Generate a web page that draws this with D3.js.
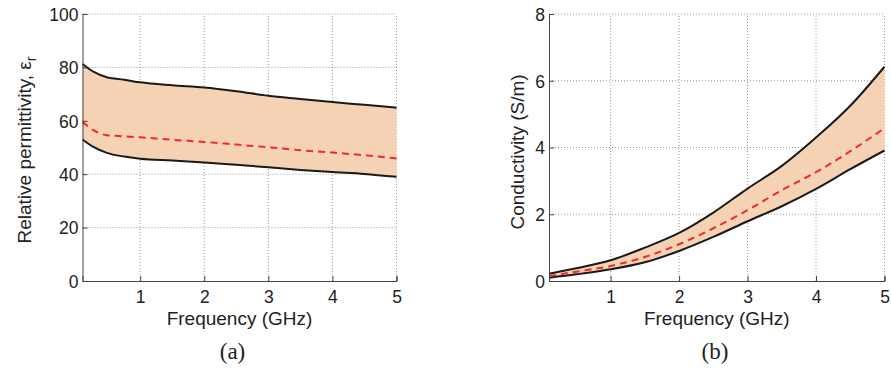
<!DOCTYPE html>
<html>
<head>
<meta charset="UTF-8">
<script src="https://d3js.org/d3.v7.min.js"></script>
<style>
  body { margin: 0; background: #fff; }
  svg { display: block; }
  .tick text { font-family: "Liberation Sans", Arial, sans-serif; font-size: 17.5px; fill: #222; }
  .lbl { font-family: "Liberation Sans", Arial, sans-serif; font-size: 19px; fill: #222; }
  .cap { font-family: "Liberation Serif", "Times New Roman", serif; font-size: 23px; fill: #222; }
</style>
</head>
<body>
<div id="chart"></div>
<script>
// panel (a): relative permittivity
const freqA = [0.1, 0.27, 0.48, 0.75, 1.0, 1.5, 2.0, 2.5, 3.0, 3.5, 4.0, 4.5, 5.0];
const permUpper = [81.3, 78.4, 76.3, 75.4, 74.4, 73.3, 72.5, 71.1, 69.4, 68.2, 67.0, 66.0, 64.9];
const permMean  = [59.6, 56.5, 54.6, 54.2, 53.8, 52.9, 52.1, 51.1, 50.1, 49.0, 48.1, 47.1, 45.9];
const permLower = [53.0, 50.2, 48.0, 46.6, 45.8, 45.1, 44.4, 43.5, 42.6, 41.6, 40.8, 40.1, 39.0];

// panel (b): conductivity
const freqB = [0.1, 0.5, 1.0, 1.5, 2.0, 2.5, 3.0, 3.5, 4.0, 4.5, 5.0];
const condUpper = [0.22, 0.38, 0.62, 1.0, 1.44, 2.05, 2.77, 3.45, 4.3, 5.25, 6.42];
const condMean  = [0.15, 0.28, 0.45, 0.72, 1.1, 1.58, 2.12, 2.72, 3.26, 3.89, 4.58];
const condLower = [0.1, 0.2, 0.35, 0.56, 0.9, 1.32, 1.79, 2.24, 2.76, 3.35, 3.91];

const xTicks = [1, 2, 3, 4, 5];
const permTicks = [0, 20, 40, 60, 80, 100];
const condTicks = [0, 2, 4, 6, 8];

const W = 891, H = 370;
const svg = d3.select("#chart").append("svg").attr("width", W).attr("height", H);

function panel(opt) {
  const x = d3.scaleLinear().domain([0.1, 5]).range([opt.left, opt.right]);
  const y = d3.scaleLinear().domain(opt.yDomain).range([281, 14]);
  const g = svg.append("g");

  // grid (dotted), incl. top and right box edges
  g.selectAll(".vg").data(xTicks).enter().append("line")
    .attr("x1", d => x(d)).attr("x2", d => x(d))
    .attr("y1", y.range()[0]).attr("y2", y.range()[1])
    .attr("stroke", "#9a9a9a").attr("stroke-width", 1).attr("stroke-dasharray", "1,2");
  g.selectAll(".hg").data(opt.yTicks.slice(1)).enter().append("line")
    .attr("x1", x.range()[0]).attr("x2", x.range()[1])
    .attr("y1", d => y(d)).attr("y2", d => y(d))
    .attr("stroke", "#9a9a9a").attr("stroke-width", 1).attr("stroke-dasharray", "1,2");

  const pts = opt.freq.map((f, i) => ({ f, lo: opt.lower[i], hi: opt.upper[i], m: opt.mean[i] }));

  g.append("path").datum(pts)
    .attr("d", d3.area().x(d => x(d.f)).y0(d => y(d.lo)).y1(d => y(d.hi)).curve(d3.curveMonotoneX))
    .attr("fill", "#f5d2b3");

  const line = key => d3.line().x(d => x(d.f)).y(d => y(d[key])).curve(d3.curveMonotoneX);
  g.append("path").datum(pts).attr("d", line("hi"))
    .attr("fill", "none").attr("stroke", "#1a1a1a").attr("stroke-width", 2);
  g.append("path").datum(pts).attr("d", line("lo"))
    .attr("fill", "none").attr("stroke", "#1a1a1a").attr("stroke-width", 2);
  g.append("path").datum(pts).attr("d", line("m"))
    .attr("fill", "none").attr("stroke", "#ee2a2a").attr("stroke-width", 2)
    .attr("stroke-dasharray", "7,5");

  // axes
  const ax = g.append("g").attr("transform", `translate(0,${y.range()[0]})`)
    .call(d3.axisBottom(x).tickValues(xTicks).tickSize(-5).tickPadding(9).tickFormat(d3.format("d")));
  const ay = g.append("g").attr("transform", `translate(${x.range()[0]},0)`)
    .call(d3.axisLeft(y).tickValues(opt.yTicks).tickSize(-5).tickPadding(4).tickFormat(d3.format("d")));
  [ax, ay].forEach(a => {
    a.select(".domain").attr("stroke", "#444");
    a.selectAll(".tick line").attr("stroke", "#444");
  });
  ay.selectAll(".tick text").attr("dy", "0.36em");
  ax.selectAll(".tick text").attr("dy", "0.72em");

  // labels
  g.append("text").attr("class", "lbl").attr("text-anchor", "middle")
    .attr("x", (x.range()[0] + x.range()[1]) / 2).attr("y", 325)
    .text("Frequency (GHz)");
  const yl = g.append("text").attr("class", "lbl").attr("text-anchor", "middle")
    .attr("transform", `translate(${opt.ylabX},${opt.ylabY}) rotate(-90)`);
  yl.append("tspan").text(opt.ylabel);
  if (opt.sub) yl.append("tspan").attr("dy", 5).attr("font-size", 14).text(opt.sub);

  g.append("text").attr("class", "cap").attr("text-anchor", "middle")
    .attr("x", opt.capX).attr("y", 359).text(opt.caption);
}

panel({
  left: 82.5, right: 396.5, yDomain: [0, 100], yTicks: permTicks,
  freq: freqA, upper: permUpper, mean: permMean, lower: permLower,
  ylabel: "Relative permittivity, \u03b5", sub: "r", ylabX: 31, ylabY: 150,
  caption: "(a)", capX: 232.5
});

panel({
  left: 549, right: 884.5, yDomain: [0, 8], yTicks: condTicks,
  freq: freqB, upper: condUpper, mean: condMean, lower: condLower,
  ylabel: "Conductivity (S/m)", ylabX: 524, ylabY: 152,
  caption: "(b)", capX: 715
});
</script>
</body>
</html>
